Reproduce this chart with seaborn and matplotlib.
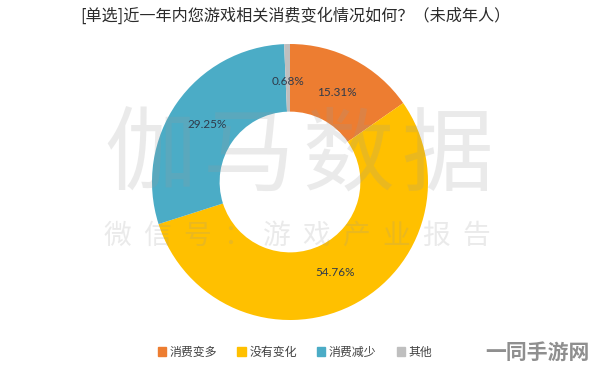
import matplotlib
matplotlib.use("Agg")
import matplotlib.pyplot as plt
import seaborn as sns
import numpy as np

categories = ["消费变多", "没有变化", "消费减少", "其他"]
values = [15.31, 54.76, 29.25, 0.68]
labels = ["15.31%", "54.76%", "29.25%", "0.68%"]
colors = ["#ED7D31", "#FFC000", "#4BACC6", "#BFBFBF"]
title = "[单选]近一年内您游戏相关消费变化情况如何？（未成年人）"

sns.set_theme(style="white")
plt.rcParams['font.family'] = ['Noto Sans CJK SC', 'DejaVu Sans']

fig = plt.figure(figsize=(5.94, 3.69), dpi=100)
W, H = 594, 369
cx, cy, R = 290, 182, 138
ax = fig.add_axes([(cx - R) / W, 1 - (cy + R) / H, 2 * R / W, 2 * R / H])

wedges, _ = ax.pie(values, colors=colors, startangle=90, counterclock=False,
                   wedgeprops=dict(width=0.49, linewidth=0))
cum = np.cumsum([0] + values[:-1])
for v, c, lab in zip(values, cum, labels):
    ang = np.deg2rad(90 - 3.6 * (c + v / 2))
    r = 0.73
    ax.text(r * np.cos(ang), r * np.sin(ang), lab, ha="center", va="center",
            fontsize=8.5, color="#2F3A4A", family=["Lato", "DejaVu Sans"])
ax.set_aspect("equal")
ax.set_xlim(-1, 1)
ax.set_ylim(-1, 1)
ax.axis("off")

fig.text(295 / W, 1 - 16 / H, title, ha="center", va="center", fontsize=11.6,
         color="#2B2B2B", fontweight="medium")

# watermark
wm = "伽马数据"
for i, ch in enumerate(wm):
    fig.text((150 + i * 99) / W, 1 - 158 / H, ch, ha="center", va="center",
             fontsize=66, color="#9A9A9A", alpha=0.2, zorder=10, fontweight="light")
wm2 = "微信号：游戏产业报告"
for i, ch in enumerate(wm2):
    fig.text((117 + i * 39.9) / W, 1 - 236 / H, ch, ha="center", va="center",
             fontsize=20, color="#9A9A9A", alpha=0.2, zorder=10, fontweight="light")

handles = [plt.Rectangle((0, 0), 1, 1, color=c) for c in colors]
fig.legend(handles, categories, loc="center", bbox_to_anchor=(295 / W, 1 - 352 / H),
           ncol=4, frameon=False, fontsize=8.6, handlelength=0.7, handleheight=0.7,
           handletextpad=0.3, columnspacing=1.7, labelcolor="#404040")

fig.text(537 / W, 1 - 352 / H, "一同手游网", ha="center", va="center", fontsize=15,
         fontweight="bold", color="#8F8F8F")

fig.savefig("out.png", dpi=100, facecolor="white")
